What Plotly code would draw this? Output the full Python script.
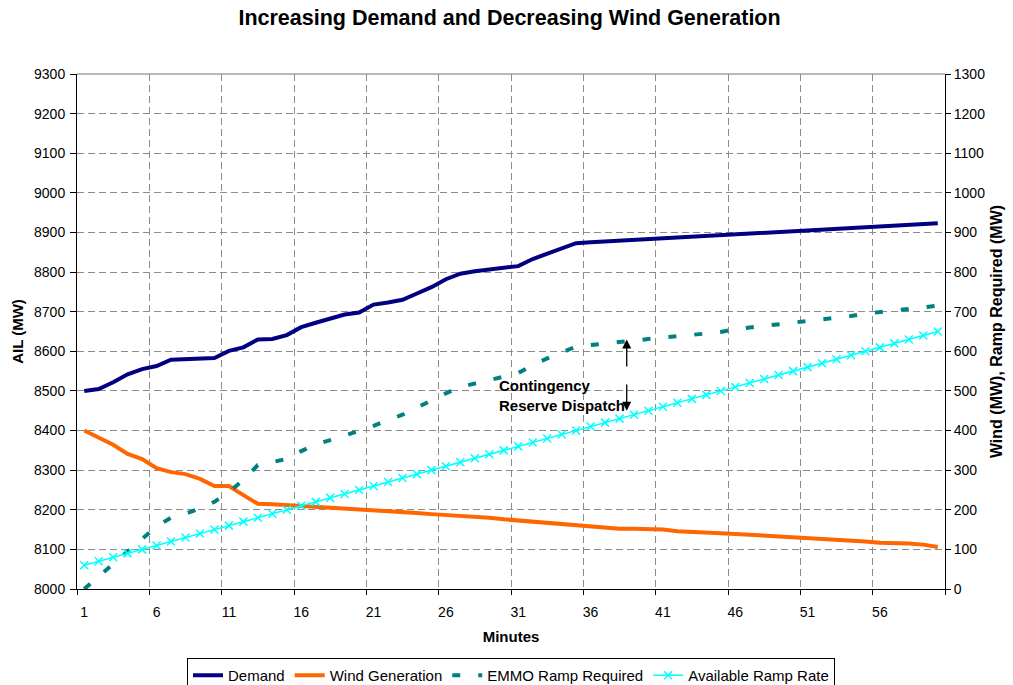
import plotly.graph_objects as go

minutes = list(range(1, 61))

demand = [8500, 8505, 8522, 8542, 8555, 8563, 8579, 8580, 8581, 8583,
          8601, 8610, 8630, 8631, 8641, 8661, 8672, 8683, 8693, 8698,
          8718, 8723, 8730, 8746, 8762, 8782, 8796, 8802, 8806, 8811,
          8815, 8833, 8847, 8861, 8873, 8875, 8877, 8879, 8881, 8883,
          8885, 8887, 8889, 8891, 8893, 8895, 8897, 8899, 8901, 8903,
          8905, 8907, 8909, 8911, 8913, 8915, 8917, 8919, 8921, 8923]

wind = [400, 383, 364, 341, 328, 305, 295, 290, 278, 260,
        260, 237, 215, 214, 212, 210, 207, 204, 202, 200,
        199, 197, 195, 192, 189, 187, 185, 183, 180, 176,
        173, 169, 167, 165, 161, 158, 156, 152, 152, 151,
        150, 146, 145, 143, 141, 139, 137, 136, 132, 130,
        129, 127, 125, 122, 120, 117, 117, 115, 112, 106]

emmo = [0, 32, 64, 96, 128, 158, 180, 190, 203, 220,
        245, 275, 313, 320, 328, 348, 365, 376, 387, 399,
        412, 427, 440, 458, 477, 494, 510, 518, 527, 536,
        545, 565, 582, 598, 612, 616, 619, 623, 627, 631,
        634, 637, 641, 645, 649, 656, 660, 664, 667, 671,
        675, 679, 683, 689, 695, 700, 703, 707, 712, 715]

avail = [60, 70, 80, 90, 100, 110, 120, 130, 140, 150,
         160, 170, 180, 190, 200, 210, 220, 230, 240, 250,
         260, 270, 280, 290, 300, 310, 320, 330, 340, 350,
         360, 370, 380, 390, 400, 410, 420, 430, 440, 450,
         460, 470, 480, 490, 500, 510, 520, 530, 540, 550,
         560, 570, 580, 590, 600, 610, 620, 630, 640, 650]

tick_minutes = [1, 6, 11, 16, 21, 26, 31, 36, 41, 46, 51, 56]
tick_labels = [str(m) for m in tick_minutes]
left_ticks = list(range(8000, 9301, 100))
right_ticks = list(range(0, 1301, 100))

FONT = "Arial, Liberation Sans, sans-serif"
GRID = "#8c8c8c"

boundaries = [m - 0.5 for m in tick_minutes] + [minutes[-1] + 0.5]
xrange = [minutes[0] - 0.5, minutes[-1] + 0.5]

fig = go.Figure()
fig.add_trace(go.Scatter(x=minutes, y=demand, name="Demand", mode="lines",
                         line=dict(color="#000080", width=4), yaxis="y"))
fig.add_trace(go.Scatter(x=minutes, y=wind, name="Wind Generation", mode="lines",
                         line=dict(color="#FF6600", width=4), yaxis="y2"))
fig.add_trace(go.Scatter(x=minutes, y=emmo, name="EMMO Ramp Required", mode="lines",
                         line=dict(color="#008080", width=4, dash="8px,18px"), yaxis="y2"))
fig.add_trace(go.Scatter(x=minutes, y=avail, name="Available Ramp Rate", mode="lines+markers",
                         line=dict(color="#00FFFF", width=1.5),
                         marker=dict(symbol="x-thin", size=8, color="#00FFFF",
                                     line=dict(color="#00FFFF", width=1.5)),
                         yaxis="y2"))

fig.update_layout(
    width=1013, height=685,
    margin=dict(l=77, r=68, t=74, b=96, autoexpand=False),
    paper_bgcolor="white", plot_bgcolor="white",
    font=dict(family=FONT, size=14, color="black"),
    title=dict(text="<b>Increasing Demand and Decreasing Wind Generation</b>",
               x=0.503, xref="container", xanchor="center",
               y=1 - 17 / 685, yref="container", yanchor="middle",
               font=dict(size=21.5, family=FONT, color="black")),
    xaxis=dict(range=xrange, tickmode="array", tickvals=tick_minutes, ticktext=tick_labels,
               ticks="", showgrid=False, ticklabelstandoff=10,
               minor=dict(tickmode="array", tickvals=boundaries, ticks="outside", ticklen=5,
                          tickcolor="black", showgrid=True, gridcolor=GRID,
                          griddash="7px,4px", gridwidth=1),
               showline=True, linecolor="black", linewidth=1, zeroline=False,
               tickfont=dict(size=14, family=FONT, color="black"),
               title=dict(text="<b>Minutes</b>", font=dict(size=15, family=FONT), standoff=12),
               fixedrange=True),
    yaxis=dict(range=[8000, 9300], tickmode="array", tickvals=left_ticks,
               ticks="outside", ticklen=6, tickcolor="black", ticklabelstandoff=2,
               showgrid=True, gridcolor=GRID, griddash="7px,4px", gridwidth=1,
               showline=True, linecolor="black", linewidth=1, zeroline=False,
               tickfont=dict(size=14, family=FONT, color="black"),
               title=dict(text="<b>AIL (MW)</b>", font=dict(size=15, family=FONT), standoff=6),
               fixedrange=True),
    yaxis2=dict(range=[0, 1300], overlaying="y", side="right", anchor="x",
                tickmode="array", tickvals=right_ticks,
                ticks="outside", ticklen=5, tickcolor="black",
                showgrid=False, showline=True, linecolor="black", linewidth=1, zeroline=False,
                tickfont=dict(size=14, family=FONT, color="black"),
                title=dict(text="<b>Wind (MW), Ramp Required (MW)</b>",
                           font=dict(size=16, family=FONT), standoff=6),
                fixedrange=True),
    legend=dict(orientation="h", x=0.5, xanchor="center", xref="paper",
                y=-(658 - 589) / 515, yanchor="top",
                bordercolor="black", borderwidth=1, bgcolor="white",
                font=dict(size=15, family=FONT, color="black"),
                itemwidth=30, tracegroupgap=0),
    showlegend=True,
)

fig.add_shape(type="line", xref="paper", yref="paper", x0=0, x1=1, y0=1, y1=1,
              line=dict(color="#a0a0a0", width=1.5))

fig.add_annotation(text="<b>Contingency<br>Reserve Dispatch</b>", xref="x", yref="y2",
                   x=29.53, y=488, xanchor="left", yanchor="middle", align="left",
                   showarrow=False, font=dict(size=15, family=FONT, color="black"))
fig.add_annotation(x=38.5, y=630, ax=38.5, ay=558, xref="x", yref="y2",
                   axref="x", ayref="y2", showarrow=True, arrowhead=2, arrowsize=1.4,
                   arrowwidth=1.3, arrowcolor="black", text="", standoff=0)
fig.add_annotation(x=38.5, y=450, ax=38.5, ay=520, xref="x", yref="y2",
                   axref="x", ayref="y2", showarrow=True, arrowhead=2, arrowsize=1.4,
                   arrowwidth=1.3, arrowcolor="black", text="", standoff=0)

fig.write_html("out.html", config={"displayModeBar": False},
               post_script="document.body.style.margin='0px';document.body.style.overflow='hidden';")
